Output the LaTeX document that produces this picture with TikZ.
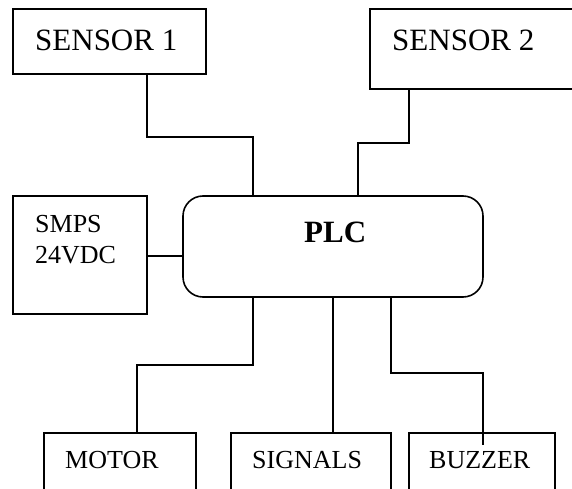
\documentclass[tikz,border=0pt]{standalone}
\usepackage{fontspec}
\setmainfont{Liberation Serif}
\begin{document}
\begin{tikzpicture}[x=1pt,y=-1pt,
  box/.style={draw,line width=1.6pt,rectangle,inner sep=0pt},
  wire/.style={line width=1.6pt},
  big/.style={font=\fontsize{31}{36}\selectfont,anchor=base west,inner sep=0pt},
  small/.style={font=\fontsize{26}{31}\selectfont,anchor=base west,inner sep=0pt}]
\useasboundingbox (0,0) rectangle (572,489);
\clip (0,0) rectangle (572,489);
% boxes
\node[box,minimum width=193pt,minimum height=65pt] (s1) at (109.5,41.5) {};
\node[box,minimum width=230pt,minimum height=80pt] (s2) at (485,49) {};
\node[box,minimum width=134pt,minimum height=118pt] (smps) at (80,255) {};
\node[box,rounded corners=20pt,minimum width=300pt,minimum height=101pt] (plc) at (333,246.5) {};
\node[box,minimum width=152pt,minimum height=87pt] (motor) at (120,476.5) {};
\node[box,minimum width=160pt,minimum height=87pt] (signals) at (311,476.5) {};
\node[box,minimum width=146pt,minimum height=87pt] (buzzer) at (482,476.5) {};
% texts
\node[big] (t1) at (35,51) {SENSOR 1};
\node[big] (t2) at (392,51) {SENSOR 2};
\node[small] (t3) at (35,232) {SMPS};
\node[small] (t4) at (35,263) {24VDC};
\node[big,font=\fontsize{31}{36}\selectfont\bfseries] (t5) at (304,242) {PLC};
\node[small] (t6) at (65,468) {MOTOR};
\node[small] (t7) at (252,468) {SIGNALS};
\node[small] (t8) at (429,468) {BUZZER};
% connectors
\coordinate (bz) at (483,445);
\draw[wire] (s1.south -| 147,0) -- ++(0,62) -| (plc.north -| 253,0);
\draw[wire] (s2.south -| 409,0) -- ++(0,53) -| (plc.north -| 358,0);
\draw[wire] (smps.east |- 0,256) -- (plc.west |- 0,256);
\draw[wire] (plc.south -| 253,0) -- ++(0,67) -| (motor.north -| 137,0);
\draw[wire] (plc.south -| 333,0) -- (signals.north -| 333,0);
\draw[wire] (plc.south -| 391,0) -- ++(0,75) -| (bz);
\end{tikzpicture}
\end{document}
